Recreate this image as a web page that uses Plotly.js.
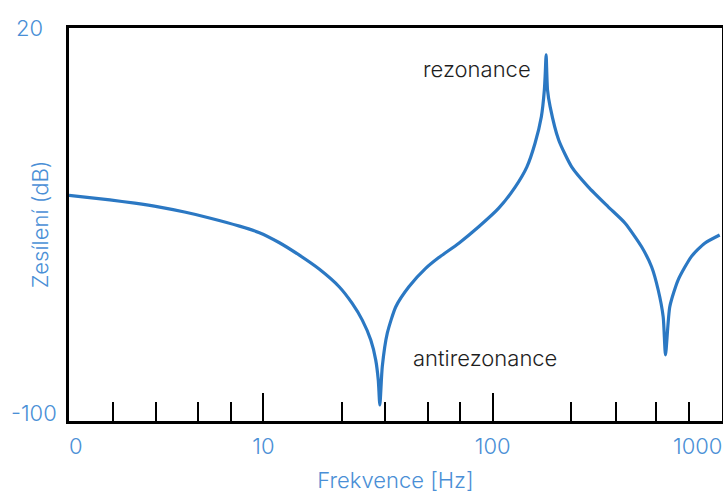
<!DOCTYPE html>
<html>
<head>
<meta charset="utf-8">
<script src="https://cdn.plot.ly/plotly-3.0.1.min.js"></script>
<style>html,body{margin:0;padding:0;background:#fff;}#chart{width:723px;height:493px;}</style>
</head>
<body>
<div id="chart"></div>
<script>
// Frequency (Hz) and gain (dB)
const freqHz = [1.42, 2.14, 2.75, 3.53, 4.53, 5.82, 7.87, 9.61, 11.7, 14.3, 17.5, 21.4, 24.4, 27.0, 29.4, 30.9, 31.7, 32.2, 33.0, 34.7, 37.8, 43.1, 51.0, 58.2, 71.2, 86.9, 106, 125.5, 141, 153, 163, 168, 169.5, 171, 173.4, 178, 194, 221, 261, 319, 378, 446, 493, 527, 554, 567, 592, 644, 735, 841, 977];
const gainDb = [-31.1, -32.5, -33.5, -34.7, -36.2, -38.0, -40.5, -42.5, -45.5, -49.3, -53.6, -59.0, -64.1, -69.2, -75.3, -81.4, -87.5, -95.1, -83.4, -73.2, -65.1, -59.0, -53.4, -50.1, -45.7, -40.7, -35.1, -28.5, -22.4, -15.2, -7.1, 1.1, 6.0, 11.8, 1.1, -4.0, -14.2, -22.4, -28.5, -34.6, -39.6, -46.8, -52.9, -60.0, -68.2, -79.8, -65.1, -56.9, -49.8, -45.7, -43.2];

const xMajorTicks = [10, 100];
const xMajorLabels = ['10', '100'];
const xMinorTicks = [2.2, 3.4, 5.2, 7.2, 22, 34, 52, 72, 220, 345, 515, 715];
const xEndLabels = ['0', '1000'];
const yTickVals = [20, -100];
const yTickLabels = ['20', '-100'];
const notes = ['rezonance', 'antirezonance'];

const blue = '#4a8fd6';
const textFont = {family: 'Inter, "Noto Sans", sans-serif', size: 22, color: blue, weight: 300};
const noteFont = {family: 'Inter, "Noto Sans", sans-serif', size: 22, color: '#1e1e1e', weight: 300};

const trace = {
  x: freqHz, y: gainDb, type: 'scatter', mode: 'lines',
  line: {color: '#2b78c3', width: 3.2, shape: 'spline', smoothing: 0.6},
  hoverinfo: 'skip'
};

const layout = {
  width: 723, height: 493,
  margin: {l: 69, r: 1, t: 28, b: 72},
  paper_bgcolor: '#fff', plot_bgcolor: '#fff',
  showlegend: false,
  xaxis: {
    type: 'log', range: [Math.log10(1.42), Math.log10(1000)],
    showline: true, mirror: true, linecolor: '#000', linewidth: 3,
    showgrid: false, zeroline: false,
    tickvals: xMajorTicks, ticktext: xMajorLabels,
    ticks: 'inside', ticklen: 28, tickwidth: 2, tickcolor: '#000',
    tickfont: textFont, ticklabelstandoff: 4,
    minor: {tickvals: xMinorTicks, ticks: 'inside', ticklen: 19, tickwidth: 2, tickcolor: '#000', showgrid: false},
    title: {text: 'Frekvence [Hz]', font: textFont, standoff: 17}
  },
  yaxis: {
    range: [-100, 20],
    showline: true, mirror: true, linecolor: '#000', linewidth: 3,
    showgrid: false, zeroline: false, ticks: '', showticklabels: false,
    title: {text: 'Zesílení (dB)', font: textFont, standoff: 12}
  },
  annotations: [
    {xref: 'paper', yref: 'paper', x: 0, y: 0, xanchor: 'left', yanchor: 'top', xshift: -2, yshift: -10, text: xEndLabels[0], showarrow: false, font: textFont},
    {xref: 'paper', yref: 'paper', x: 1, y: 0, xanchor: 'right', yanchor: 'top', xshift: 2, yshift: -10, text: xEndLabels[1], showarrow: false, font: textFont},
    {xref: 'paper', yref: 'y', x: 0, y: yTickVals[0], xanchor: 'center', xshift: -40, text: yTickLabels[0], showarrow: false, font: textFont},
    {xref: 'paper', yref: 'y', x: 0, y: yTickVals[1], xanchor: 'center', xshift: -35, yshift: 8, text: yTickLabels[1], showarrow: false, font: textFont},
    {xref: 'x', yref: 'y', x: Math.log10(85), y: 7.5, xanchor: 'center', yanchor: 'middle', text: notes[0], showarrow: false, font: noteFont},
    {xref: 'x', yref: 'y', x: Math.log10(93), y: -80.8, xanchor: 'center', yanchor: 'middle', text: notes[1], showarrow: false, font: noteFont}
  ]
};

Plotly.newPlot('chart', [trace], layout, {staticPlot: true, displayModeBar: false});
</script>
</body>
</html>
